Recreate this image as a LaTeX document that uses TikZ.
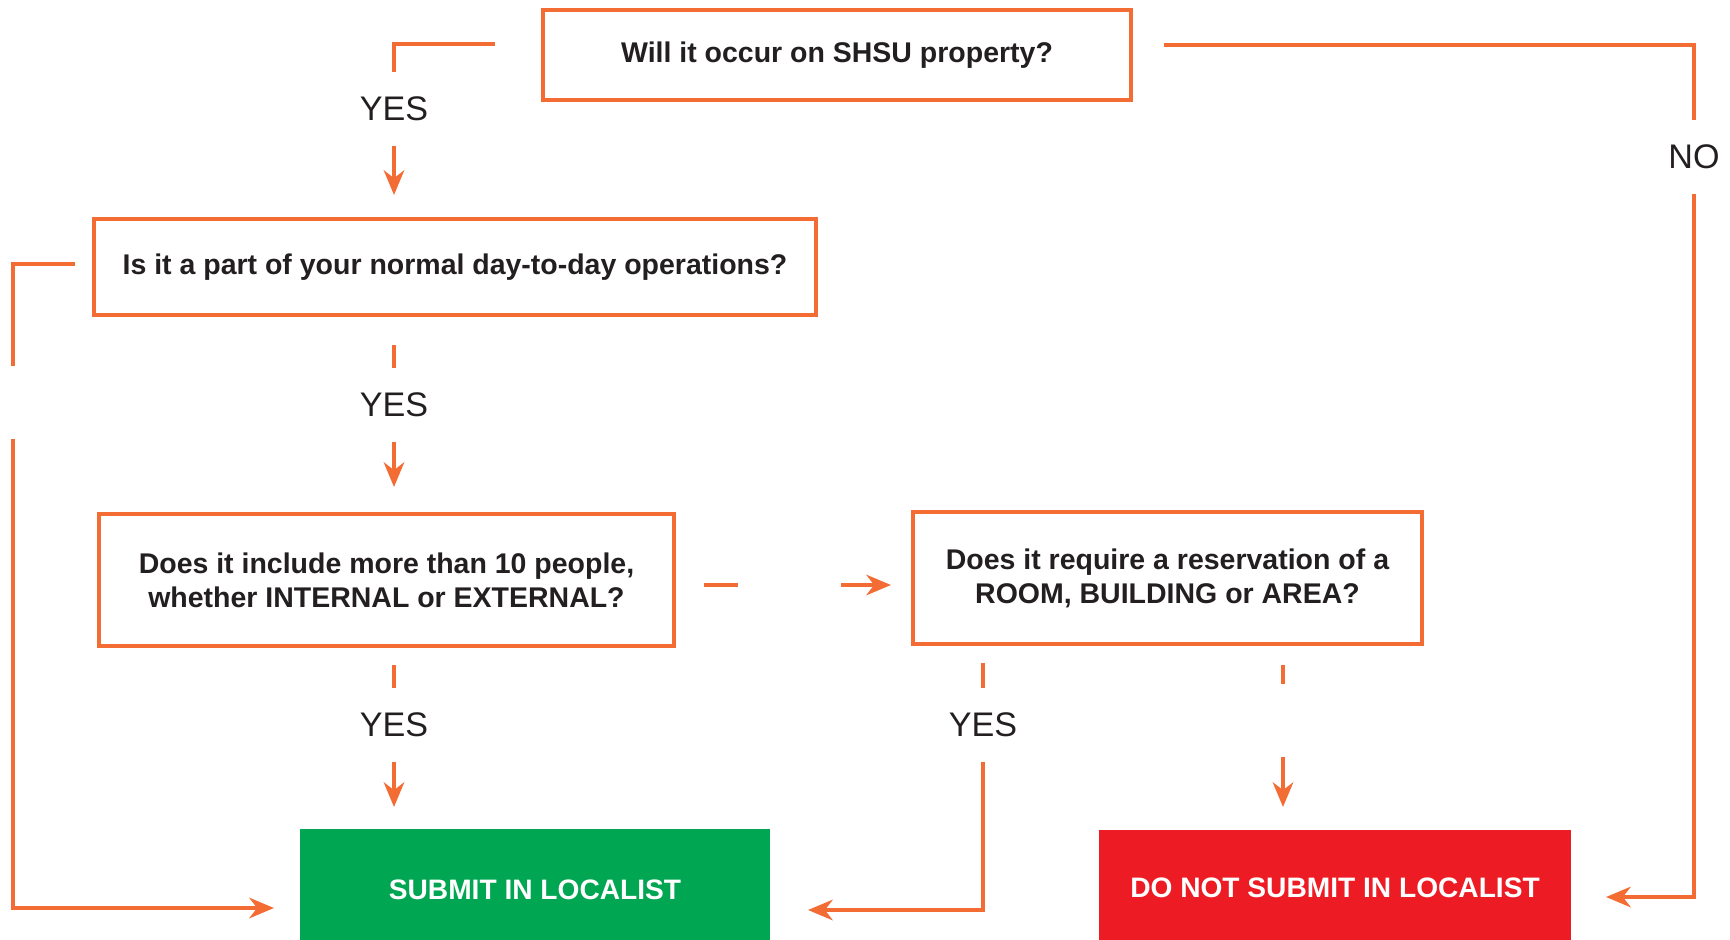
\documentclass[tikz,border=0pt]{standalone}
\usepackage{fontspec}
\setmainfont{Liberation Sans}
\usetikzlibrary{arrows.meta,calc}
\definecolor{org}{RGB}{242,108,52}
\definecolor{txt}{RGB}{35,31,32}
\definecolor{grn}{RGB}{0,166,81}
\definecolor{rd}{RGB}{237,28,36}
\begin{document}
\begin{tikzpicture}[x=0.01cm,y=-0.01cm,
 qbox/.style={draw=org,line width=1.2pt,inner sep=0pt,font=\bfseries\fontsize{8.1}{9.7}\selectfont,text=txt,align=center},
 endbox/.style={inner sep=0pt,font=\bfseries\fontsize{8}{10}\selectfont,text=white},
 lbl/.style={inner sep=0pt,minimum height=0.72cm,font=\fontsize{9.7}{11}\selectfont,text=txt},
 ln/.style={draw=org,line width=1.2pt},
 arr/.style={ln,-{Stealth[length=7pt,width=5.8pt,inset=2.2pt]}}]
\useasboundingbox (0,0) rectangle (1730,939);
\clip (0,0) rectangle (1730,939);

% boxes
\node[qbox,minimum width=5.88cm,minimum height=0.9cm] (b1) at (837,55) {Will it occur on SHSU property?};
\node[qbox,minimum width=7.22cm,minimum height=0.96cm] (b2) at (455,267) {Is it a part of your normal day-to-day operations?};
\node[qbox,minimum width=5.75cm,minimum height=1.32cm] (b3) at (386.5,580) {Does it include more than 10 people,\\whether INTERNAL or EXTERNAL?};
\node[qbox,minimum width=5.09cm,minimum height=1.32cm] (b4) at (1167.5,578) {Does it require a reservation of a\\ROOM, BUILDING or AREA?};
\node[endbox,fill=grn,minimum width=4.7cm,minimum height=1.22cm] (ok) at (535,890) {SUBMIT IN LOCALIST};
\node[endbox,fill=rd,minimum width=4.72cm,minimum height=1.16cm] (notok) at (1335,888) {DO NOT SUBMIT IN LOCALIST};

% labels
\node[lbl] (y1) at (394,109) {YES};
\node[lbl] (y2) at (394,405) {YES};
\node[lbl] (y3) at (394,725) {YES};
\node[lbl] (y4) at (983,725) {YES};
\node[lbl] (nl) at (1694,157) {NO};

% connector coordinates
\coordinate (c1) at (495,44);
\coordinate (t1) at (394,195);
\coordinate (c2) at (394,345);
\coordinate (t2) at (394,487);
\coordinate (c3) at (394,665);
\coordinate (t3) at (394,807);
\coordinate (c4) at (983,663);
\coordinate (t4) at (808,910);
\coordinate (c5a) at (1283,665);
\coordinate (c5b) at (1283,684);
\coordinate (c5c) at (1283,757);
\coordinate (t5) at (1283,807);
\coordinate (c6a) at (704,585);
\coordinate (c6b) at (738,585);
\coordinate (c6c) at (841,585);
\coordinate (t6) at (891,585);
\coordinate (c7a) at (75,264);
\coordinate (c7b) at (13,366);
\coordinate (c7c) at (13,439);
\coordinate (t7) at (274,908);
\coordinate (c8) at (1164,45);
\coordinate (t8) at (1606,897);

% connectors
\draw[ln] (c1) -| (y1.north);
\draw[arr] (y1.south) -- (t1);
\draw[ln] (c2) -- (y2.north);
\draw[arr] (y2.south) -- (t2);
\draw[ln] (c3) -- (y3.north);
\draw[arr] (y3.south) -- (t3);
\draw[ln] (c4) -- (y4.north);
\draw[arr] (y4.south) |- (t4);
\draw[ln] (c5a) -- (c5b);
\draw[arr] (c5c) -- (t5);
\draw[ln] (c6a) -- (c6b);
\draw[arr] (c6c) -- (t6);
\draw[ln] (c7a) -| (c7b);
\draw[arr] (c7c) |- (t7);
\draw[ln] (c8) -| (nl.north);
\draw[arr] (nl.south) |- (t8);
\end{tikzpicture}
\end{document}
